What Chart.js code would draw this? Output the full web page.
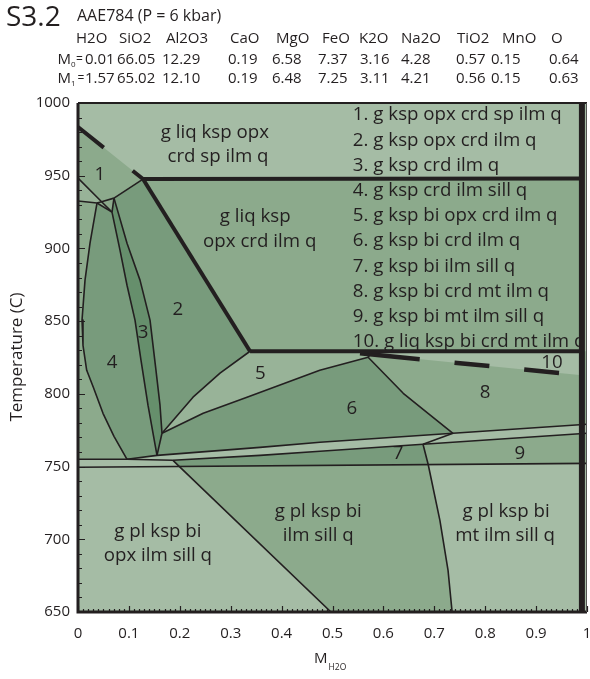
<!DOCTYPE html>
<html>
<head>
<meta charset="utf-8">
<script src="https://cdn.jsdelivr.net/npm/chart.js@4/dist/chart.umd.min.js"></script>
<style>
  html, body { margin: 0; padding: 0; background: #ffffff; }
  #wrap { position: relative; width: 590px; height: 679px; }
</style>
</head>
<body>
<div id="wrap"><canvas id="c" width="590" height="679"></canvas></div>
<script>
// ---------- bulk composition header ----------
const sampleName = 'AAE784 (P = 6 kbar)';
const figureTag = 'S3.2';
const oxides = ['H2O', 'SiO2', 'Al2O3', 'CaO', 'MgO', 'FeO', 'K2O', 'Na2O', 'TiO2', 'MnO', 'O'];
const bulkM0 = ['0.01', '66.05', '12.29', '0.19', '6.58', '7.37', '3.16', '4.28', '0.57', '0.15', '0.64'];
const bulkM1 = ['1.57', '65.02', '12.10', '0.19', '6.48', '7.25', '3.11', '4.21', '0.56', '0.15', '0.63'];

// ---------- axes ----------
const tempTicks = [650, 700, 750, 800, 850, 900, 950, 1000];
const xTicks = [0, 0.1, 0.2, 0.3, 0.4, 0.5, 0.6, 0.7, 0.8, 0.9, 1];
const xTickLabels = ['0', '0.1', '0.2', '0.3', '0.4', '0.5', '0.6', '0.7', '0.8', '0.9', '1'];

// ---------- field boundaries, [M_H2O, T (C)] ----------
const solidusDash  = [[0, 983.5], [0.1277, 947.7]];
const solidusUpper = [[0.1277, 947.7], [0.99, 948.0]];
const solidusStep  = [[0.1277, 947.7], [0.338, 829.3]];
const solidusLower = [[0.338, 829.3], [0.99, 829.3]];
const liqOutDash   = [[0.554, 827.9], [0.99, 812.8]];
const waterLimit   = [[0.99, 650], [0.99, 1000]];

const edgeL1 = [[0, 948.4], [0.0464, 932.1], [0.0668, 925.0]];
const edgeL2 = [[0, 932.6], [0.0373, 931.2]];
const edgeCB = [[0.0373, 931.2], [0.0464, 932.1], [0.0707, 934.6]];
const edgePB = [[0.1277, 947.7], [0.0707, 934.6]];
const edgeBA = [[0.0707, 934.6], [0.0668, 925.0]];
const edgeCA = [[0.0373, 931.2], [0.0668, 925.0]];

const curve4  = [[0.0373, 931.2], [0.0236, 903.6], [0.0138, 878.2], [0.0079, 850.7], [0.0098, 833.4],
                 [0.0171, 816.2], [0.0301, 804.5], [0.0491, 786.6], [0.0707, 770.8], [0.0963, 755.0]];
const curve3L = [[0.0668, 925.0], [0.0825, 898.8], [0.0963, 874.7], [0.1120, 850.7], [0.1238, 823.1],
                 [0.1375, 792.2], [0.1552, 757.7]];
const curve3R = [[0.0707, 934.6], [0.0963, 903.6], [0.1218, 878.2], [0.1415, 850.7], [0.1532, 816.2],
                 [0.1611, 792.2], [0.1650, 772.9]];
const link3   = [[0.1650, 772.9], [0.1552, 757.7]];

const curve5 = [[0.1650, 772.9], [0.226, 797.7], [0.279, 814.2], [0.338, 829.3]];
const edge56 = [[0.1650, 772.9], [0.246, 786.6], [0.332, 797.7], [0.475, 816.2], [0.570, 825.2]];
const stub68 = [[0.570, 825.2], [0.578, 829.3]];
const edge68 = [[0.570, 825.2], [0.639, 800.4], [0.692, 785.3], [0.7367, 772.9]];

const lineA = [[0.0963, 755.0], [0.1552, 757.7], [0.3576, 763.2], [0.4754, 766.7], [0.7367, 772.9], [1, 779.1]];
const lineB = [[0, 755.0], [0.0963, 755.0], [0.1866, 754.3], [0.3576, 757.7], [0.4754, 760.5], [0.6778, 765.3], [1, 772.9]];
const lineC = [[0, 749.5], [1, 752.2]];
const link9 = [[0.6778, 765.3], [0.7367, 772.9]];
const diagSill = [[0.1866, 754.3], [0.1993, 750.0], [0.497, 650]];
const curveMt  = [[0.6778, 765.3], [0.688, 751.4], [0.711, 713.0], [0.727, 678.6], [0.735, 650]];
const plotBox  = [[0, 650], [1, 650], [1, 1000], [0, 1000]];
const rightEdge = [[1, 829.3]];

// ---------- text ----------
const fieldNames = ['g liq ksp opx', 'crd sp ilm q', 'g liq ksp', 'opx crd ilm q',
  '1', '2', '3', '4', '5', '6', '7', '8', '9', '10',
  'g pl ksp bi', 'opx ilm sill q', 'g pl ksp bi', 'ilm sill q', 'g pl ksp bi', 'mt ilm sill q'];
const fieldAnchors = [[0.269, 979.4], [0.275, 962.8], [0.348, 921.5], [0.357, 904.3],
  [0.043, 950.4], [0.196, 858.2], [0.128, 842.4], [0.067, 821.1], [0.358, 814.2], [0.538, 790.1],
  [0.629, 759.1], [0.800, 801.1], [0.868, 759.1], [0.931, 821.1],
  [0.157, 705.4], [0.157, 688.9], [0.472, 719.2], [0.472, 702.7], [0.841, 719.2], [0.839, 702.7]];
const assemblages = [
  '1. g ksp opx crd sp ilm q',
  '2. g ksp opx crd ilm q',
  '3. g ksp crd ilm q',
  '4. g ksp crd ilm sill q',
  '5. g ksp bi opx crd ilm q',
  '6. g ksp bi crd ilm q',
  '7. g ksp bi ilm sill q',
  '8. g ksp bi crd mt ilm q',
  '9. g ksp bi mt ilm sill q',
  '10. g liq ksp bi crd mt ilm q'
];

// ---------- styling ----------
const INK = '#231f20';
const FONT = '"Open Sans", Lato, sans-serif';
const SHADE = { light: '#a5bca5', lightMid: '#98b398', mid: '#8caa8c', dark: '#789b7c', darkest: '#668f6c' };

const rev = a => a.slice().reverse();
const toXY = a => a.map(p => ({ x: p[0], y: p[1] }));
const datasets = [];

function field(points, color, order) {
  datasets.push({ data: toXY(points), showLine: true, fill: 'shape', backgroundColor: color,
    borderColor: 'rgba(0,0,0,0)', borderWidth: 0, pointRadius: 0, tension: 0, order: order });
}
function edge(points, width, dash, order) {
  datasets.push({ data: toXY(points), showLine: true, fill: false, borderColor: INK, borderWidth: width,
    borderDash: dash || [], borderCapStyle: 'butt', borderJoinStyle: 'round', pointRadius: 0, tension: 0, order: order });
}

// fills, bottom layer first (higher order is painted earlier)
field(plotBox, SHADE.light, 100);
field(solidusDash.concat([edgeCB[2], edgeCB[1], edgeL1[0]]), SHADE.mid, 90);                 // field 1
field([edgeL1[1], edgeCB[2], edgeBA[1], edgeCA[0]], SHADE.mid, 90);
field([edgeL1[0], edgeL1[1], edgeL2[1], edgeL2[0]], SHADE.lightMid, 90);
field([solidusUpper[0], solidusUpper[1], solidusLower[1], solidusLower[0]], SHADE.mid, 90);  // liq field
field([edgeL2[0]].concat(curve4, [lineB[0]]), SHADE.mid, 90);                               // left band
field([stub68[1], rightEdge[0], lineA[5], lineA[4]].concat(rev(edge68).slice(1)), SHADE.mid, 90); // field 8
field(lineB.slice(5).concat([lineC[1], curveMt[1]]), SHADE.mid, 90);                         // field 9
field(diagSill.slice(1).concat(rev(curveMt.slice(1))), SHADE.mid, 90);                       // pl field
field([stub68[1], solidusLower[1], liqOutDash[1], liqOutDash[0]], SHADE.light, 85);          // field 10
field(edgePB.concat(curve3R.slice(1), curve5.slice(1)), SHADE.dark, 80);                     // field 2
field(curve4.concat([lineA[1]], rev(curve3L).slice(1)), SHADE.dark, 80);                     // field 4
field(edge56.concat(edge68.slice(1), rev(lineA.slice(1, 4))), SHADE.dark, 80);               // field 6
field(lineB.slice(2, 6).concat([curveMt[1], diagSill[1]]), SHADE.dark, 80);                  // field 7
field(curve5.concat([stub68[1]], rev(edge56)), SHADE.lightMid, 80);                          // field 5
field(edgeBA.concat(curve3L.slice(1), rev(curve3R)), SHADE.darkest, 75);                     // field 3

// boundaries
[edgeL1, edgeL2, edgeCB, edgePB, edgeBA, edgeCA, curve4, curve3L, curve3R, link3, curve5, edge56,
 stub68, edge68, lineA, lineB, lineC, link9, diagSill, curveMt].forEach(b => edge(b, 1.6, null, 10));
edge(solidusDash, 4, [33, 37], 5);
edge(solidusUpper, 4, null, 5);
edge(solidusStep, 4, null, 5);
edge(solidusLower, 4, null, 5);
edge(liqOutDash, 4.5, [60, 35, 35, 35, 35, 40], 5);
edge(waterLimit, 6, null, 4);

const overlay = {
  id: 'overlay',
  beforeDatasetsDraw(chart) {
    const { ctx, scales: { x, y } } = chart;
    ctx.save();
    ctx.fillStyle = INK;
    ctx.textBaseline = 'middle';
    ctx.textAlign = 'center';
    ctx.font = '18.7px ' + FONT;
    fieldNames.forEach((t, i) => ctx.fillText(t, x.getPixelForValue(fieldAnchors[i][0]), y.getPixelForValue(fieldAnchors[i][1])));
    ctx.textAlign = 'left';
    const lx = x.getPixelForValue(0.54);
    assemblages.forEach((t, i) => ctx.fillText(t, lx, 115 + i * 25.2));
    ctx.restore();
  },
  afterDatasetsDraw(chart) {
    const { ctx, chartArea: a, scales: { x, y } } = chart;
    ctx.save();
    ctx.strokeStyle = INK;
    ctx.lineWidth = 1.2;
    ctx.beginPath();
    for (let t = 650; t <= 1000; t += 10) {
      const py = Math.round(y.getPixelForValue(t)) + 0.5;
      const len = t % 50 === 0 ? 7 : 4;
      ctx.moveTo(a.left, py); ctx.lineTo(a.left + len, py);
    }
    for (let i = 0; i <= 100; i++) {
      const px = Math.round(x.getPixelForValue(i / 100)) + 0.5;
      const len = i % 10 === 0 ? 6 : 3;
      ctx.moveTo(px, a.bottom); ctx.lineTo(px, a.bottom - len);
    }
    ctx.stroke();
    // frame
    ctx.lineWidth = 3;
    ctx.beginPath();
    ctx.moveTo(a.left, a.top); ctx.lineTo(a.left, a.bottom); ctx.lineTo(a.right, a.bottom);
    ctx.stroke();
    ctx.lineWidth = 2;
    ctx.beginPath();
    ctx.moveTo(a.left, a.top); ctx.lineTo(a.right, a.top);
    ctx.stroke();
    ctx.lineWidth = 1;
    ctx.strokeStyle = '#555';
    ctx.beginPath();
    ctx.moveTo(a.right - 0.5, a.top); ctx.lineTo(a.right - 0.5, a.bottom);
    ctx.stroke();
    ctx.restore();
  },
  afterDraw(chart) {
    const { ctx } = chart;
    ctx.save();
    ctx.fillStyle = INK;
    ctx.textBaseline = 'alphabetic';
    ctx.textAlign = 'left';
    ctx.font = '28px ' + FONT;
    ctx.fillText(figureTag, 6, 26);
    ctx.font = '16px ' + FONT;
    ctx.fillText(sampleName, 77, 21);
    ctx.font = '15px ' + FONT;
    const headX = [76, 119, 166, 230, 276, 322, 359, 401, 457, 502, 551];
    const valX  = [85, 117, 162, 228, 272, 318, 360, 401, 456, 491, 549];
    oxides.forEach((t, i) => ctx.fillText(t, headX[i], 43));
    bulkM0.forEach((t, i) => ctx.fillText(t, valX[i], 63.5));
    bulkM1.forEach((t, i) => ctx.fillText(t, valX[i], 83));
    // M0 = and M1 =
    [['0', 63.5, 76], ['1', 83, 77.5]].forEach(([s, by, ex]) => {
      ctx.font = '15px ' + FONT;
      ctx.fillText('M', 57.5, by);
      ctx.font = '8px ' + FONT;
      ctx.fillText(s, 71, by + 3);
      ctx.font = '12px ' + FONT;
      ctx.fillText('=', ex, by - 1);
    });
    // x title with subscript
    ctx.font = '15px ' + FONT;
    ctx.fillText('M', 314, 663);
    ctx.font = '8.5px ' + FONT;
    ctx.fillText('H2O', 328.5, 670);
    // y title
    ctx.translate(17, 357);
    ctx.rotate(-Math.PI / 2);
    ctx.textAlign = 'center';
    ctx.textBaseline = 'middle';
    ctx.font = '17px ' + FONT;
    ctx.fillText('Temperature (C)', 0, 0);
    ctx.restore();
  }
};

new Chart(document.getElementById('c'), {
  type: 'scatter',
  data: { datasets },
  options: {
    responsive: false,
    devicePixelRatio: 1,
    animation: false,
    events: [],
    layout: { padding: { top: 103, right: 3, left: 0, bottom: 0 } },
    plugins: {
      legend: { display: false },
      tooltip: { enabled: false },
      filler: { drawTime: 'beforeDatasetsDraw', propagate: false }
    },
    scales: {
      x: {
        type: 'linear', min: 0, max: 1,
        afterBuildTicks: s => { s.ticks = xTicks.map(v => ({ value: v })); },
        afterFit: s => { s.height = 67; s.paddingLeft = 0; s.paddingRight = 0; },
        grid: { display: false, drawTicks: false },
        border: { display: false },
        ticks: { color: INK, font: { family: FONT, size: 15 }, padding: 13, maxRotation: 0,
          callback: (v, i) => xTickLabels[i] }
      },
      y: {
        type: 'linear', min: 650, max: 1000,
        afterBuildTicks: s => { s.ticks = tempTicks.map(v => ({ value: v })); },
        afterFit: s => { s.width = 78; s.paddingTop = 0; s.paddingBottom = 0; },
        grid: { display: false, drawTicks: false },
        border: { display: false },
        ticks: { color: INK, font: { family: FONT, size: 15 }, padding: 8,
          callback: (v, i) => String(tempTicks[i]) }
      }
    }
  },
  plugins: [overlay]
});
</script>
</body>
</html>
